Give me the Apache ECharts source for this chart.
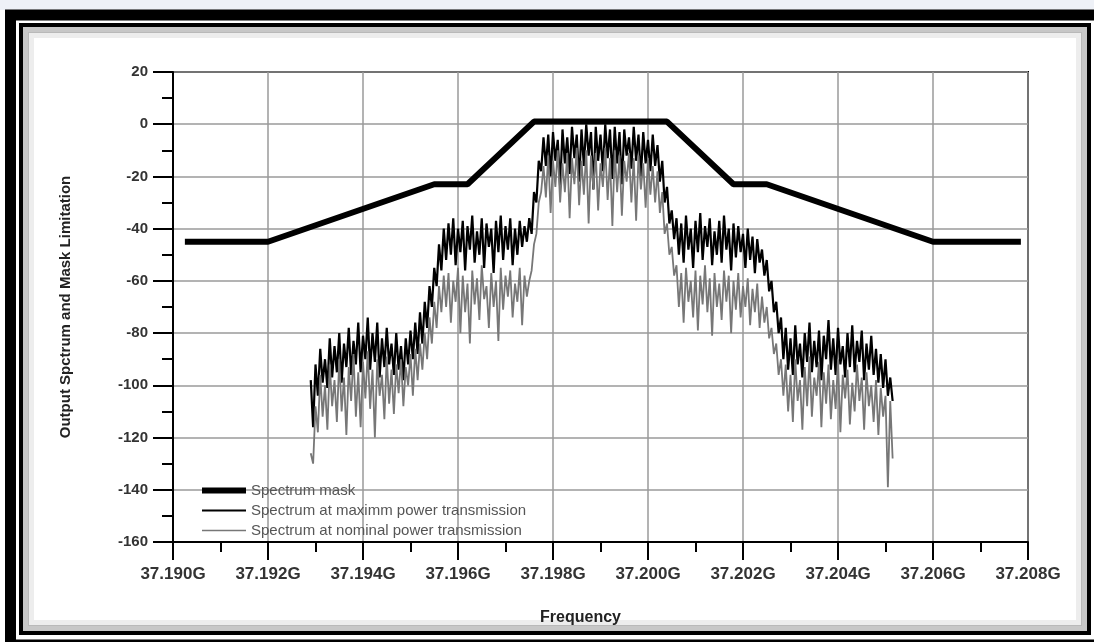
<!DOCTYPE html>
<html>
<head>
<meta charset="utf-8">
<script src="https://cdn.jsdelivr.net/npm/echarts@6/dist/echarts.min.js"></script>
<style>
  html, body { margin: 0; padding: 0; background: #fff; }
  #chart { width: 1094px; height: 642px; }
</style>
</head>
<body>
<div id="chart"></div>
<script>
// spectrum mask corners (GHz, dB)
var maskFreq = [37.19025, 37.1920, 37.1955, 37.1962, 37.1976, 37.2004, 37.2018, 37.2025, 37.2060, 37.20785];
var maskLevel = [-45, -45, -23, -23, 1, 1, -23, -23, -45, -45];

// analyser sample frequencies (GHz)
var sampleFreq = [
  37.19290, 37.19295, 37.19300, 37.19305, 37.19310, 37.19315, 37.19320, 37.19325, 37.19330, 37.19335,
  37.19340, 37.19345, 37.19350, 37.19355, 37.19360, 37.19365, 37.19370, 37.19375, 37.19380, 37.19385,
  37.19390, 37.19395, 37.19400, 37.19405, 37.19410, 37.19415, 37.19420, 37.19425, 37.19430, 37.19435,
  37.19440, 37.19445, 37.19450, 37.19455, 37.19460, 37.19465, 37.19470, 37.19475, 37.19480, 37.19485,
  37.19490, 37.19495, 37.19500, 37.19505, 37.19510, 37.19515, 37.19520, 37.19525, 37.19530, 37.19535,
  37.19540, 37.19545, 37.19550, 37.19555, 37.19560, 37.19565, 37.19570, 37.19575, 37.19580, 37.19585,
  37.19590, 37.19595, 37.19600, 37.19605, 37.19610, 37.19615, 37.19620, 37.19625, 37.19630, 37.19635,
  37.19640, 37.19645, 37.19650, 37.19655, 37.19660, 37.19665, 37.19670, 37.19675, 37.19680, 37.19685,
  37.19690, 37.19695, 37.19700, 37.19705, 37.19710, 37.19715, 37.19720, 37.19725, 37.19730, 37.19735,
  37.19740, 37.19745, 37.19750, 37.19755, 37.19760, 37.19765, 37.19770, 37.19775, 37.19780, 37.19785,
  37.19790, 37.19795, 37.19800, 37.19805, 37.19810, 37.19815, 37.19820, 37.19825, 37.19830, 37.19835,
  37.19840, 37.19845, 37.19850, 37.19855, 37.19860, 37.19865, 37.19870, 37.19875, 37.19880, 37.19885,
  37.19890, 37.19895, 37.19900, 37.19905, 37.19910, 37.19915, 37.19920, 37.19925, 37.19930, 37.19935,
  37.19940, 37.19945, 37.19950, 37.19955, 37.19960, 37.19965, 37.19970, 37.19975, 37.19980, 37.19985,
  37.19990, 37.19995, 37.20000, 37.20005, 37.20010, 37.20015, 37.20020, 37.20025, 37.20030, 37.20035,
  37.20040, 37.20045, 37.20050, 37.20055, 37.20060, 37.20065, 37.20070, 37.20075, 37.20080, 37.20085,
  37.20090, 37.20095, 37.20100, 37.20105, 37.20110, 37.20115, 37.20120, 37.20125, 37.20130, 37.20135,
  37.20140, 37.20145, 37.20150, 37.20155, 37.20160, 37.20165, 37.20170, 37.20175, 37.20180, 37.20185,
  37.20190, 37.20195, 37.20200, 37.20205, 37.20210, 37.20215, 37.20220, 37.20225, 37.20230, 37.20235,
  37.20240, 37.20245, 37.20250, 37.20255, 37.20260, 37.20265, 37.20270, 37.20275, 37.20280, 37.20285,
  37.20290, 37.20295, 37.20300, 37.20305, 37.20310, 37.20315, 37.20320, 37.20325, 37.20330, 37.20335,
  37.20340, 37.20345, 37.20350, 37.20355, 37.20360, 37.20365, 37.20370, 37.20375, 37.20380, 37.20385,
  37.20390, 37.20395, 37.20400, 37.20405, 37.20410, 37.20415, 37.20420, 37.20425, 37.20430, 37.20435,
  37.20440, 37.20445, 37.20450, 37.20455, 37.20460, 37.20465, 37.20470, 37.20475, 37.20480, 37.20485,
  37.20490, 37.20495, 37.20500, 37.20505, 37.20510, 37.20515
];

// spectrum at maximum power (dB)
var maxPower = [
  -98, -116, -92, -104, -86, -99, -90, -101, -82, -97,
  -85, -95, -80, -99, -84, -93, -78, -96, -83, -92,
  -76, -95, -81, -90, -74, -94, -80, -91, -76, -97,
  -82, -93, -78, -92, -84, -96, -80, -94, -85, -98,
  -82, -92, -79, -90, -76,
  -88, -72, -84, -68, -78, -62, -70, -55, -62, -46, -56, -40,
  -52, -38, -50, -36, -54, -40, -49, -37, -56, -39,
  -48, -35, -53, -41, -50, -36, -55, -38, -47, -40,
  -57, -37, -49, -35, -52, -39, -48, -36, -54, -40,
  -50, -37, -47, -39, -45,
  -36, -42, -26, -30, -14, -18, -5,
  -16, -4, -20, -3, -14, -6, -24, -2, -15, -5,
  -19, -1, -13, -4, -22, -2, -16, 0, -12, -3,
  -25, -1, -14, -4, -18, 0, -13, -2, -21, -1,
  -15, -3, -23, -2, -12, -5, -17, -1, -14, -4,
  -20, -3, -15, -6, -18, -4, -16,
  -8, -22, -14, -30, -24, -38, -33, -44,
  -36, -50, -38, -53, -35, -48, -40, -55, -37, -49,
  -34, -52, -39, -47, -36, -54, -41, -50, -37, -53,
  -35, -48, -40, -56, -38, -51, -39, -49, -42, -55,
  -40, -52, -43, -57, -44, -53, -48,
  -58, -52, -64, -60, -72, -68, -80, -74,
  -90, -78, -94, -82, -96, -77, -92, -84, -97, -80,
  -91, -76, -95, -83, -93, -79, -98, -81, -90, -75,
  -94, -82, -96, -78, -92, -85, -97, -80, -93, -77,
  -95, -83, -91, -79, -98, -84, -94, -81, -96, -86,
  -99, -88, -101, -90, -104, -97, -106
];

// spectrum at nominal power (dB)
var nominalPower = [
  -126, -130, -108, -118, -96, -112, -100, -117, -92, -108,
  -98, -114, -90, -110, -97, -119, -93, -106, -88, -112,
  -95, -116, -91, -105, -87, -109, -94, -120, -90, -104,
  -96, -113, -89, -107, -94, -111, -92, -103, -90, -108,
  -93, -100, -88, -104, -86,
  -98, -84, -94, -80, -90, -74, -84, -68, -78, -62, -72, -58,
  -70, -57, -76, -60, -68, -55, -80, -58, -72, -61,
  -84, -56, -69, -59, -75, -54, -67, -62, -78, -57,
  -70, -60, -83, -55, -71, -58, -66, -56, -74, -61,
  -68, -55, -77, -58, -66,
  -60, -56, -46, -42, -30, -26, -16,
  -28, -12, -34, -14, -24, -10, -30, -15, -26, -11,
  -36, -13, -23, -9, -31, -14, -27, -10, -38, -12,
  -25, -11, -33, -15, -24, -9, -29, -13, -39, -10,
  -26, -12, -35, -14, -22, -11, -30, -13, -37, -12,
  -25, -15, -32, -13, -27, -16, -30,
  -18, -34, -26, -42, -38, -50, -47, -58,
  -54, -70, -57, -76, -55, -68, -60, -74, -56, -79,
  -58, -69, -54, -72, -59, -81, -57, -70, -61, -75,
  -56, -68, -58, -80, -60, -71, -57, -74, -62, -70,
  -59, -77, -63, -72, -61, -78, -66,
  -76, -70, -82, -78, -88, -84, -96, -90,
  -104, -92, -110, -96, -114, -90, -106, -98, -117, -93,
  -108, -89, -112, -97, -104, -91, -116, -95, -107, -92,
  -113, -98, -109, -90, -118, -96, -105, -94, -115, -99,
  -110, -92, -106, -97, -117, -95, -108, -100, -114, -98,
  -119, -101, -112, -104, -139, -106, -128
];

var seriesNames = ['Spectrum mask', 'Spectrum at maximm power transmission', 'Spectrum at nominal power transmission'];

function pairs(xs, ys) {
  var out = [];
  for (var i = 0; i < xs.length && i < ys.length; i++) out.push([xs[i], ys[i]]);
  return out;
}

var chart = echarts.init(document.getElementById('chart'), null, { renderer: 'canvas' });
var boldFont = '"Liberation Sans", Arial, sans-serif';

var option = {
  animation: false,
  backgroundColor: '#fff',
  graphic: [
    { type: 'rect', shape: { x: 0, y: 0, width: 1094, height: 10 }, style: { fill: '#eef1f7' }, z: 0 },
    { type: 'rect', shape: { x: 10.5, y: 15, width: 1090, height: 630 }, style: { fill: 'none', stroke: '#000', lineWidth: 11 }, z: 0 },
    { type: 'rect', shape: { x: 21, y: 25, width: 1068, height: 608 }, style: { fill: 'none', stroke: '#000', lineWidth: 4 }, z: 0 },
    { type: 'rect', shape: { x: 26, y: 30, width: 1058, height: 598 }, style: { fill: 'none', stroke: 'rgba(0,0,0,0.22)', lineWidth: 6 }, z: 0 },
    { type: 'rect', shape: { x: 31, y: 35, width: 1048, height: 588 }, style: { fill: 'none', stroke: 'rgba(0,0,0,0.07)', lineWidth: 6 }, z: 0 }
  ],
  grid: {
    left: 173, right: 66, top: 72, bottom: 100,
    show: true, borderColor: '#000', borderWidth: 2
  },
  legend: {
    orient: 'vertical',
    left: 197, top: 478,
    itemWidth: 44, itemHeight: 14, itemGap: 5,
    symbolKeepAspect: true,
    textStyle: { fontFamily: boldFont, fontSize: 15, color: '#555' },
    data: [
      { name: seriesNames[0], icon: 'path://M0 0H44V6H0Z' },
      { name: seriesNames[1], icon: 'path://M0 0H44V2H0Z' },
      { name: seriesNames[2], icon: 'path://M0 0H44V1.4H0Z' }
    ]
  },
  xAxis: {
    type: 'value',
    min: 37.190, max: 37.208, interval: 0.002,
    name: 'Frequency', nameLocation: 'middle', nameGap: 68,
    nameTextStyle: { fontFamily: boldFont, fontWeight: 'bold', fontSize: 16, color: '#222', padding: [0, 40, 0, 0] },
    axisLine: { onZero: false, lineStyle: { color: '#000', width: 2 } },
    axisTick: { inside: false, length: 18, lineStyle: { color: '#000', width: 2 } },
    minorTick: { show: true, splitNumber: 2, length: 10, lineStyle: { color: '#000', width: 2 } },
    axisLabel: {
      margin: 24, fontFamily: boldFont, fontWeight: 'bold', fontSize: 17, color: '#333',
      formatter: function (v) { return v.toFixed(3) + 'G'; }
    },
    splitLine: { show: true, lineStyle: { color: '#9a9a9a', width: 1.5 } }
  },
  yAxis: {
    type: 'value',
    min: -160, max: 20, interval: 20,
    name: 'Output Spctrum and Mask Limitation', nameLocation: 'middle', nameGap: 100,
    nameTextStyle: { fontFamily: boldFont, fontWeight: 'bold', fontSize: 15, color: '#222' },
    axisLine: { show: true, onZero: false, lineStyle: { color: '#000', width: 2 } },
    axisTick: { show: true, inside: false, length: 20, lineStyle: { color: '#000', width: 2 } },
    minorTick: { show: true, splitNumber: 2, length: 11, lineStyle: { color: '#000', width: 2 } },
    axisLabel: { margin: 25, fontFamily: boldFont, fontWeight: 'bold', fontSize: 15, color: '#333' },
    splitLine: { show: true, lineStyle: { color: '#9a9a9a', width: 1.5 } }
  },
  series: [
    {
      name: seriesNames[0], type: 'line', symbol: 'none', z: 5,
      data: pairs(maskFreq, maskLevel),
      itemStyle: { color: '#000' },
      lineStyle: { color: '#000', width: 6 }
    },
    {
      name: seriesNames[1], type: 'line', symbol: 'none', z: 3,
      data: pairs(sampleFreq, maxPower),
      itemStyle: { color: '#000' },
      lineStyle: { color: '#000', width: 2.2 }
    },
    {
      name: seriesNames[2], type: 'line', symbol: 'none', z: 4,
      data: pairs(sampleFreq, nominalPower),
      itemStyle: { color: '#777' },
      lineStyle: { color: '#777', width: 1.8 }
    }
  ]
};
chart.setOption(option);
</script>
</body>
</html>
